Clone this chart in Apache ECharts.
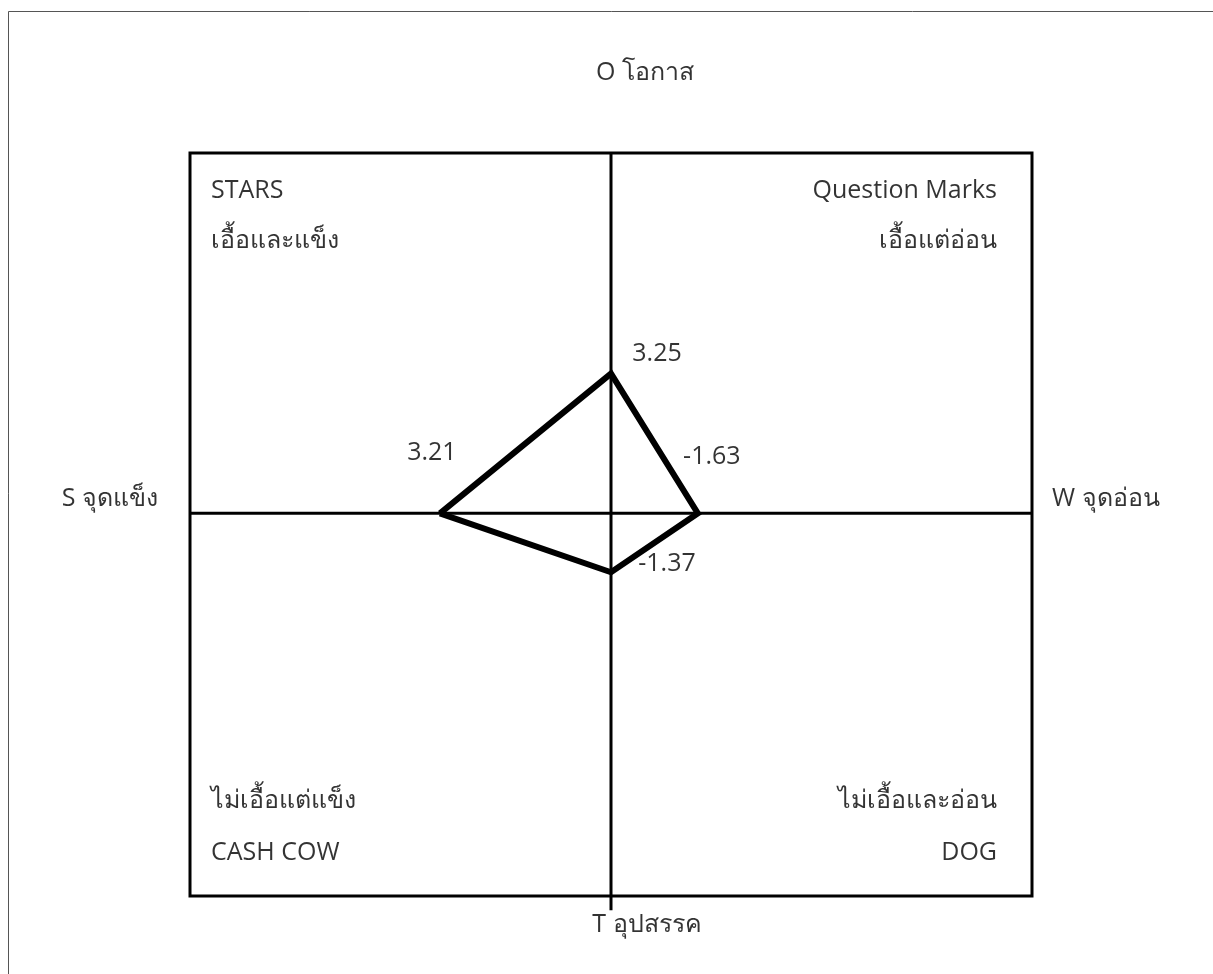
<!DOCTYPE html>
<html>
<head>
<meta charset="utf-8">
<script src="https://cdn.jsdelivr.net/npm/echarts@6/dist/echarts.min.js"></script>
<style>
  html, body { margin: 0; padding: 0; background: #fff; }
  #chart { width: 1213px; height: 974px; }
</style>
</head>
<body>
<div id="chart"></div>
<script>
// คะแนน SWOT
var factorNames = ['S', 'O', 'W', 'T'];
var factorScores = [3.21, 3.25, -1.63, -1.37];
// ป้ายแกน
var axisNames = ['S จุดแข็ง', 'O โอกาส', 'W จุดอ่อน', 'T อุปสรรค'];
// ป้ายแต่ละช่อง
var quadrantTitles = ['STARS', 'Question Marks', 'CASH COW', 'DOG'];
var quadrantThai = ['เอื้อและแข็ง', 'เอื้อแต่อ่อน', 'ไม่เอื้อแต่แข็ง', 'ไม่เอื้อและอ่อน'];

var FONT = '"Open Sans", "Noto Sans", "DejaVu Sans", sans-serif';
var TEXT_COLOR = '#000';
var X_RANGE = 7.9;
var Y_MAX = 8.38, Y_MIN = -8.9;

$ready();

function $ready() {
  var chart = echarts.init(document.getElementById('chart'));

  // S ไปทางซ้าย, W ไปทางขวา, O ขึ้น, T ลง
  var s = factorScores[0], o = factorScores[1], w = factorScores[2], t = factorScores[3];
  var pts = [
    { value: [-s, 0], score: s, off: [-8, -60] },
    { value: [0, o], score: o, off: [46, -20] },
    { value: [-w, 0], score: w, off: [14, -56] },
    { value: [0, t], score: t, off: [56, -8] }
  ];
  var polyLine = pts.map(function (p) { return p.value; });
  polyLine.push(pts[0].value);
  var scoreLabels = pts.map(function (p) {
    return { value: p.value, label: { offset: p.off, formatter: String(p.score) } };
  });

  var option = {
    backgroundColor: '#fff',
    animation: false,
    grid: {
      left: 190, top: 153, width: 842, height: 743,
      show: true, borderColor: '#000', borderWidth: 3, backgroundColor: 'transparent'
    },
    xAxis: { type: 'value', min: -X_RANGE, max: X_RANGE, show: false },
    yAxis: { type: 'value', min: Y_MIN, max: Y_MAX, show: false },
    graphic: [
      { type: 'rect', shape: { x: 8.5, y: 11.5, width: 1400, height: 1200 },
        style: { fill: 'none', stroke: '#555', lineWidth: 1 }, silent: true, z: -1 }
    ],
    series: [
      {
        // แกนนอน
        type: 'line', symbol: 'none', silent: true,
        lineStyle: { color: '#000', width: 3 },
        data: [[-X_RANGE, 0], [X_RANGE, 0]]
      },
      {
        // แกนตั้ง (ยาวเลยกรอบล่างเล็กน้อย)
        type: 'line', symbol: 'none', silent: true, clip: false,
        lineStyle: { color: '#000', width: 3 },
        data: [[0, Y_MAX], [0, Y_MIN - 0.33]]
      },
      {
        type: 'line', symbol: 'none', silent: true,
        lineStyle: { color: '#000', width: 6, join: 'miter' },
        data: polyLine
      },
      {
        // ค่าคะแนนที่จุดยอด
        type: 'scatter', symbolSize: 0, silent: true, z: 5,
        label: { show: true, position: 'inside', fontFamily: FONT, fontSize: 25, color: TEXT_COLOR },
        data: scoreLabels
      },
      {
        // ป้ายแกนและป้ายช่อง
        type: 'scatter', symbolSize: 0, silent: true, clip: false,
        label: { show: true, fontFamily: FONT, fontSize: 25, color: TEXT_COLOR },
        data: [
          { value: [-X_RANGE, 0], label: { formatter: axisNames[0], position: 'left', distance: 32, offset: [0, -14] } },
          { value: [0, Y_MAX], label: { formatter: axisNames[1], position: 'top', distance: 68, offset: [34, 0] } },
          { value: [X_RANGE, 0], label: { formatter: axisNames[2], position: 'right', distance: 20, offset: [0, -14] } },
          { value: [0, Y_MIN], label: { formatter: axisNames[3], position: 'bottom', distance: 16, offset: [36, 0] } },
          { value: [-X_RANGE, Y_MAX], label: { formatter: quadrantTitles[0] + '\n' + quadrantThai[0], position: 'insideTopLeft', align: 'left', lineHeight: 50, offset: [16, 8] } },
          { value: [X_RANGE, Y_MAX], label: { formatter: quadrantTitles[1] + '\n' + quadrantThai[1], position: 'insideTopRight', align: 'right', lineHeight: 50, offset: [-30, 8] } },
          { value: [-X_RANGE, Y_MIN], label: { formatter: quadrantThai[2] + '\n' + quadrantTitles[2], position: 'insideBottomLeft', align: 'left', lineHeight: 52, offset: [16, -12] } },
          { value: [X_RANGE, Y_MIN], label: { formatter: quadrantThai[3] + '\n' + quadrantTitles[3], position: 'insideBottomRight', align: 'right', lineHeight: 52, offset: [-30, -12] } }
        ]
      }
    ]
  };

  chart.setOption(option);
}
</script>
</body>
</html>
